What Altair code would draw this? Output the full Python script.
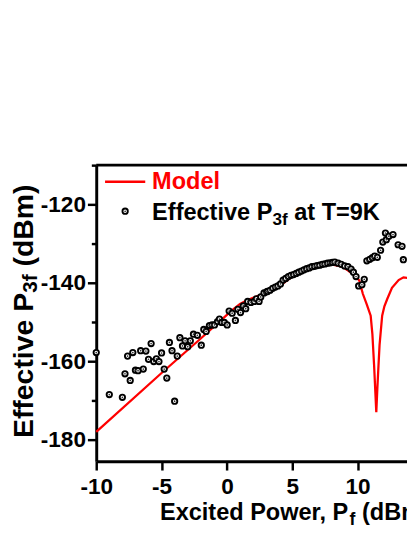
import altair as alt
import pandas as pd

# ---------------- data ----------------
model_x = [-10, -5, -2, 0, 0.5, 1, 1.5, 2, 2.5, 3, 4, 5, 6, 7, 8, 8.75, 9.25,
           9.75, 10.0, 10.13, 10.4, 10.7, 11.0, 11.13, 11.26, 11.36, 11.43,
           11.51, 11.6, 11.68, 11.88, 12.05, 12.26, 12.63, 13.14, 13.51, 13.9]
model_y = [-178, -163, -154.2, -148.2, -146.7, -145.4, -144.5, -143.8, -143.2,
           -142.6, -140.9, -138.4, -136.9, -135.9, -135.3, -135.8, -136.8,
           -138.1, -138.9, -139.4, -142.8, -145.5, -148.4, -153, -160.9, -168,
           -173, -167, -161, -155.9, -148.4, -146, -144.2, -141.3, -139.3,
           -138.6, -138.8]

meas_x = [-10.0, -9.0, -8.0, -7.8, -7.6, -7.4, -7.2, -7.0, -6.8, -6.6, -6.4,
          -6.2, -6.0, -5.8, -5.6, -5.4, -5.2, -5.0, -4.8, -4.6, -4.4, -4.2,
          -4.0, -3.8, -3.6, -3.4, -3.2, -3.0, -2.8, -2.56, -2.26, -1.96,
          -1.77, -1.59, -1.34, -1.14, -0.95, -0.72, -0.57, -0.4, -0.2, 0.02,
          0.17, 0.4, 0.65, 0.84, 1.04, 1.25, 1.44, 1.59, 1.84, 2.09, 2.26,
          2.46, 2.59, 2.84, 3.04, 3.1, 3.3, 3.5, 3.7, 3.9, 4.1, 4.3, 4.5,
          4.7, 4.9, 5.1, 5.3, 5.5, 5.7, 5.9, 6.1, 6.3, 6.5, 6.7, 6.9, 7.1,
          7.3, 7.5, 7.7, 7.9, 8.08, 8.26, 8.51, 8.75, 9.01, 9.26, 9.5, 9.68,
          9.88, 10.08, 10.33, 10.51, 10.71, 10.93, 11.13, 11.31, 11.51,
          11.76, 11.93, 12.13, 12.2, 12.39, 12.71, 13.1, 13.4, 13.5]
meas_y = [-157.8, -168.5, -169.2, -163.2, -158.7, -164.9, -157.8, -162.3,
          -162.4, -157.3, -162.0, -157.4, -159.5, -155.5, -160.1, -159.4,
          -160.1, -157.9, -162.0, -164.3, -155.2, -157.3, -170.2, -158.7,
          -154.0, -156.1, -154.8, -156.3, -154.8, -153.1, -153.4, -155.9,
          -151.9, -152.4, -150.9, -150.75, -150.75, -149.9, -149.25, -150.1,
          -150.1, -150.75, -147.2, -147.75, -149.6, -146.75, -147.6, -145.9,
          -146.6, -144.75, -145.0, -144.75, -144.1, -144.75, -143.6, -142.6,
          -142.3, -142.2, -141.9, -141.4, -141.1, -140.8, -140.3, -139.3,
          -138.9, -138.4, -138.1, -137.9, -137.6, -137.3, -137.0, -136.7,
          -136.4, -136.2, -135.9, -135.8, -135.6, -135.5, -135.3, -135.2,
          -135.0, -134.9, -134.8, -134.7, -135.0, -135.3, -135.7, -135.9,
          -136.5, -137.3, -138.4, -140.8, -140.5, -139.1, -134.4, -134.0,
          -133.6, -133.2, -133.5, -131.7, -129.6, -127.3, -129.0, -128.1,
          -127.7, -130.3, -130.7, -134.1]

x_ticks = [-10, -7.5, -5, -2.5, 0, 2.5, 5, 7.5, 10, 12.5]
y_ticks = [-180, -170, -160, -150, -140, -130, -120, -110]

legend_model = "Model"
legend_meas = ["Effective P", "3f", "at T=9K"]
x_title = ["Excited Power, P", "f", "(dBm)"]
y_title = ["Effective P", "3f", "(dBm)"]

FONT = "Liberation Sans"
W, H = 317, 302

model_df = pd.DataFrame({"x": model_x, "y": model_y})
meas_df = pd.DataFrame({"x": meas_x, "y": meas_y})

xscale = alt.Scale(domain=[-10, 13.78], nice=False, zero=False)
yscale = alt.Scale(domain=[-185.5, -110], nice=False, zero=False)

common_axis = dict(
    title="", grid=False, labelFont=FONT, labelFontSize=23,
    labelFontWeight="bold", labelColor="black", tickColor="black",
    tickWidth=2.5, domainColor="black", domainWidth=3,
    labelFlush=False, labelOverlap=False,
)
xaxis = alt.Axis(
    values=x_ticks,
    labelExpr="datum.value % 5 == 0 ? '' + datum.value : ''",
    tickSize={"condition": {"test": "datum.value % 5 != 0", "value": 5}, "value": 9},
    labelPadding=6, **common_axis)
yaxis = alt.Axis(
    values=y_ticks,
    labelExpr="datum.value % 20 == 0 ? '' + datum.value : ''",
    tickSize={"condition": {"test": "datum.value % 20 != 0", "value": 5}, "value": 9},
    labelPadding=2, **common_axis)

line = alt.Chart(model_df).mark_line(color="#ff0000", strokeWidth=2.3).encode(
    x=alt.X("x:Q", scale=xscale, axis=xaxis),
    y=alt.Y("y:Q", scale=yscale, axis=yaxis),
)
rings = alt.Chart(meas_df).mark_circle(
    size=30, fill="white", stroke="black", strokeWidth=1.9, opacity=1
).encode(x=alt.X("x:Q", scale=xscale), y=alt.Y("y:Q", scale=yscale))
dots = alt.Chart(meas_df).mark_circle(size=3, color="#333333", opacity=1).encode(
    x=alt.X("x:Q", scale=xscale), y=alt.Y("y:Q", scale=yscale))

one = alt.Data(values=[{}])


def txt(s, x, y, size, color="black", angle=0):
    return alt.Chart(one).mark_text(
        text=s, font=FONT, fontSize=size, fontWeight="bold", color=color,
        align="left", baseline="alphabetic", angle=angle,
    ).encode(x=alt.value(x), y=alt.value(y))


# frame top line
top = alt.Chart(one).mark_rule(color="black", strokeWidth=3).encode(
    x=alt.value(0), x2=alt.value(W), y=alt.value(0))

# legend
leg_line = alt.Chart(one).mark_rule(color="#ff0000", strokeWidth=2.5).encode(
    x=alt.value(9), x2=alt.value(50), y=alt.value(17))
leg_ring = alt.Chart(one).mark_circle(
    size=30, fill="white", stroke="black", strokeWidth=1.9, opacity=1
).encode(x=alt.value(29.5), y=alt.value(47))
leg_dot = alt.Chart(one).mark_circle(size=3, color="#333333", opacity=1).encode(
    x=alt.value(29.5), y=alt.value(47))
lx, LF, LS = 57, 24, 17.5
leg_texts = [
    txt(legend_model, lx, 24, LF, color="#ff0000"),
    txt(legend_meas[0], lx, 56, LF),
    txt(legend_meas[1], lx + 5.113 * LF, 61.5, LS),
    txt(legend_meas[2], lx + 5.113 * LF + 0.889 * LS + 0.278 * LF, 56, LF),
]

# x title
tx, XF, XS = 65, 24, 18
xt = [
    txt(x_title[0], tx, 362, XF),
    txt(x_title[1], tx + 8.059 * XF, 367, XS),
    txt(x_title[2], tx + 8.059 * XF + 0.333 * XS + 0.278 * XF, 362, XF),
]

# y title (rotated)
YF, YS = 29, 21
ylen = (5.113 + 3.166) * YF + 0.889 * YS
ys = 149 + ylen / 2
yt = [
    txt(y_title[0], -65, ys, YF, angle=270),
    txt(y_title[1], -60, ys - 5.113 * YF, YS, angle=270),
    txt(y_title[2], -65, ys - 5.113 * YF - 0.889 * YS - 0.278 * YF, YF, angle=270),
]

chart = alt.layer(
    line, rings, dots, top, leg_line, leg_ring, leg_dot, *leg_texts, *xt, *yt
).properties(
    width=W, height=H,
    autosize=alt.AutoSizeParams(type="none"),
    padding={"left": 90, "top": 155, "right": 0, "bottom": 72},
).configure_view(stroke=None)

chart.save("out.html", embed_options={"renderer": "svg", "actions": False})
